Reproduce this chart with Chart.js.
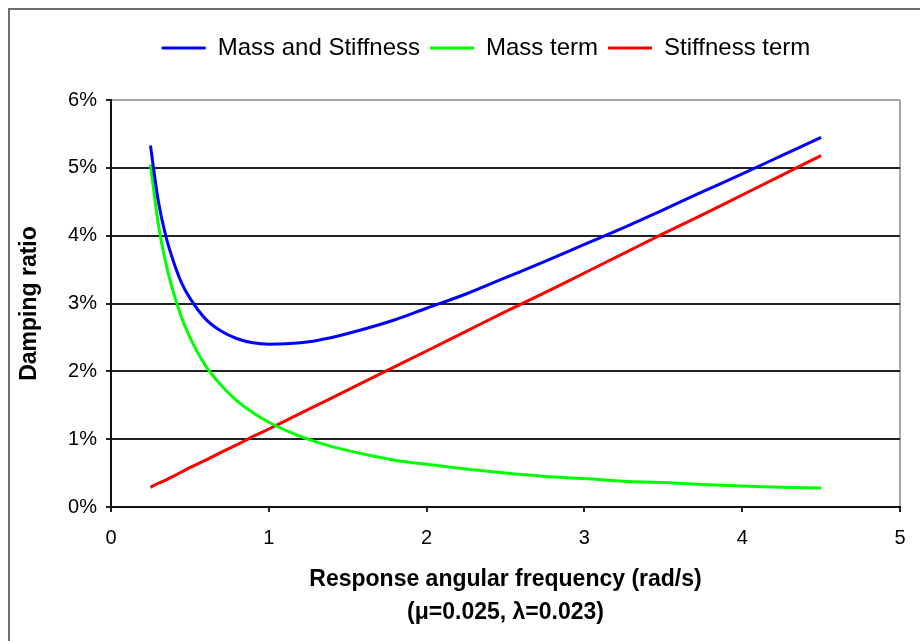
<!DOCTYPE html>
<html>
<head>
<meta charset="utf-8">
<title>Damping ratio</title>
<script src="https://cdn.jsdelivr.net/npm/chart.js@4.4.0/dist/chart.umd.min.js"></script>
<style>
  html, body { margin: 0; padding: 0; background: #fff; }
  #wrap { position: relative; width: 920px; height: 641px; overflow: hidden; }
  #frame { position: absolute; left: 8px; top: 8px; width: 1000px; height: 1000px;
           border-left: 2px solid #707070; border-top: 2px solid #707070; }
  canvas { position: absolute; left: 0; top: 0; }
</style>
</head>
<body>
<div id="wrap">
  <div id="frame"></div>
  <canvas id="myChart" width="920" height="641"></canvas>
</div>
<script>
// response angular frequency (rad/s)
const frequency = [0.25, 0.3, 0.35, 0.4, 0.45, 0.5, 0.6, 0.7, 0.8, 0.9, 1.0, 1.2, 1.4, 1.6, 1.8,
                   2.0, 2.25, 2.5, 2.75, 3.0, 3.25, 3.5, 3.75, 4.0, 4.25, 4.5];
// damping ratio in %
const massAndStiffness = [5.33, 4.51, 3.97, 3.59, 3.29, 3.08, 2.77, 2.59, 2.48, 2.42, 2.40, 2.42, 2.50, 2.62, 2.76,
                          2.93, 3.14, 3.38, 3.62, 3.87, 4.12, 4.38, 4.65, 4.91, 5.18, 5.45];
const massTerm = [5.05, 4.17, 3.57, 3.13, 2.78, 2.50, 2.08, 1.79, 1.56, 1.39, 1.25, 1.04, 0.89, 0.78, 0.69,
                  0.63, 0.56, 0.50, 0.45, 0.42, 0.38, 0.36, 0.33, 0.31, 0.29, 0.28];
const stiffnessTerm = [0.29, 0.35, 0.40, 0.46, 0.52, 0.58, 0.69, 0.81, 0.92, 1.04, 1.15, 1.38, 1.61, 1.84, 2.07,
                       2.30, 2.59, 2.88, 3.16, 3.45, 3.74, 4.03, 4.31, 4.60, 4.89, 5.18];
const seriesNames = ['Mass and Stiffness', 'Mass term', 'Stiffness term'];
const seriesColors = ['#0000ff', '#00ff00', '#ff0000'];

function toPoints(values) {
    return frequency.map((f, i) => ({ x: f, y: values[i] }));
}

Chart.defaults.font.family = '"Liberation Sans", Arial, sans-serif';
Chart.defaults.color = '#000';

// legend: fixed height and nudged right like the original
const legendTweak = {
    id: 'legendTweak',
    beforeInit(chart) {
        const fit = chart.legend.fit;
        chart.legend.fit = function () {
            fit.call(this);
            this.height = 74;
        };
    },
    afterLayout(chart) {
        chart.legend.left += 36;
        chart.legend.right += 36;
    }
};

const ctx = document.getElementById('myChart').getContext('2d');
new Chart(ctx, {
    type: 'line',
    data: {
        datasets: [massAndStiffness, massTerm, stiffnessTerm].map((vals, i) => ({
            label: seriesNames[i],
            data: toPoints(vals),
            borderColor: seriesColors[i],
            backgroundColor: seriesColors[i],
            borderWidth: 3,
            pointRadius: 0,
            cubicInterpolationMode: 'monotone',
            fill: false
        }))
    },
    options: {
        responsive: false,
        animation: false,
        layout: { padding: { top: 26, right: 20, left: 0, bottom: 0 } },
        plugins: {
            legend: {
                position: 'top',
                labels: {
                    usePointStyle: true,
                    pointStyle: 'line',
                    pointStyleWidth: 44,
                    padding: 10,
                    font: { size: 24 }
                }
            },
            tooltip: { enabled: false }
        },
        scales: {
            x: {
                type: 'linear',
                min: 0,
                max: 5,
                afterFit(scale) { scale.height = 134; },
                ticks: { stepSize: 1, padding: 14, font: { size: 20 } },
                grid: {
                    color: c => c.tick && c.tick.value === 5 ? '#a6a6a6' : 'rgba(0,0,0,0)',
                    tickColor: '#222',
                    tickLength: 5,
                    lineWidth: 2
                },
                border: { color: '#111', width: 2 },
                title: {
                    display: true,
                    text: ['Response angular frequency (rad/s)', '(\u03bc=0.025, \u03bb=0.023)'],
                    font: { size: 23, weight: 'bold', lineHeight: 1.43 },
                    padding: { top: 0, bottom: 12 }
                }
            },
            y: {
                min: 0,
                max: 6,
                afterFit(scale) { scale.width = 111; },
                ticks: { stepSize: 1, padding: 9, font: { size: 20 }, callback: v => v + '%' },
                grid: {
                    color: c => c.tick && c.tick.value === 6 ? '#a6a6a6' : '#222',
                    tickColor: '#222',
                    tickLength: 5,
                    lineWidth: 2
                },
                border: { color: '#111', width: 2 },
                title: {
                    display: true,
                    text: 'Damping ratio',
                    font: { size: 23, weight: 'bold' },
                    padding: { top: 16, bottom: 0 }
                }
            }
        }
    },
    plugins: [legendTweak]
});
</script>
</body>
</html>
